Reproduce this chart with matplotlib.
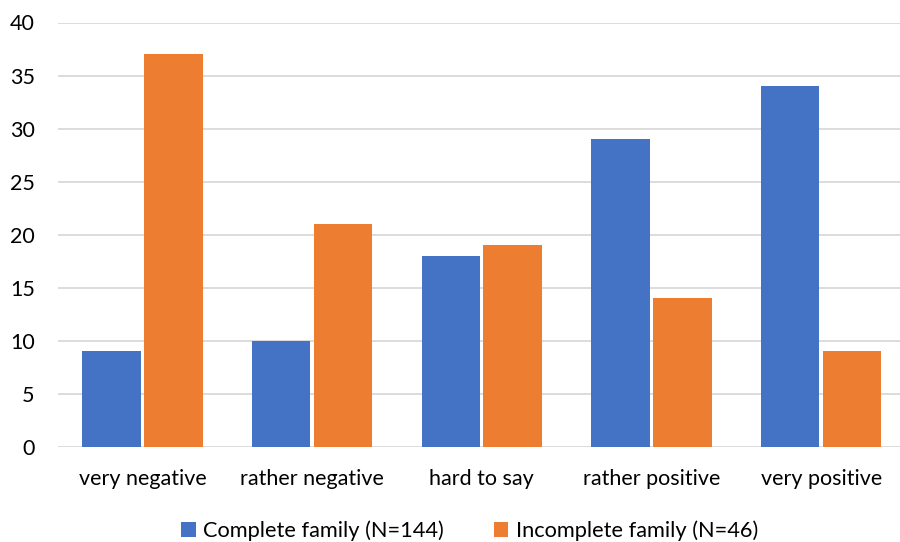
import numpy as np
import matplotlib.pyplot as plt

plt.rcParams['font.family'] = ['Lato', 'DejaVu Sans']

categories = ['very negative', 'rather negative', 'hard to say', 'rather positive', 'very positive']
complete = [9, 10, 18, 29, 34]
incomplete = [37, 21, 19, 14, 9]
series_names = ['Complete family (N=144)', 'Incomplete family (N=46)']
yticks = [0, 5, 10, 15, 20, 25, 30, 35, 40]

blue = '#4472c4'
orange = '#ed7d31'

fig = plt.figure(figsize=(9, 5.42), dpi=100)
ax = fig.add_axes([57.6 / 900, (542 - 447) / 542, (906 - 57.6) / 900, (447 - 22.5) / 542])

x = np.arange(len(categories))
w = 0.345
off = 0.1825
ax.bar(x - off, complete, w, color=blue, label=series_names[0], zorder=3)
ax.bar(x + off, incomplete, w, color=orange, label=series_names[1], zorder=3)

ax.set_xlim(-0.5, len(categories) - 0.5)
ax.set_ylim(0, 40)
ax.set_yticks(yticks)
ax.set_xticks(x)
ax.set_xticklabels(categories)
ax.grid(axis='y', color='#d9d9d9', linewidth=1.3, zorder=0)
ax.tick_params(axis='both', length=0, labelsize=15.5, colors='#000000')
ax.tick_params(axis='y', pad=16.5)
ax.tick_params(axis='x', pad=16)
for s in ax.spines.values():
    s.set_visible(False)

ax.legend(loc='center', bbox_to_anchor=(0.5 - 12 / 848.4, -0.197), ncol=2, frameon=False,
          fontsize=15.7, handlelength=0.65, handleheight=0.65, handletextpad=0.35,
          columnspacing=2.3)

fig.savefig('out.png', dpi=100)
